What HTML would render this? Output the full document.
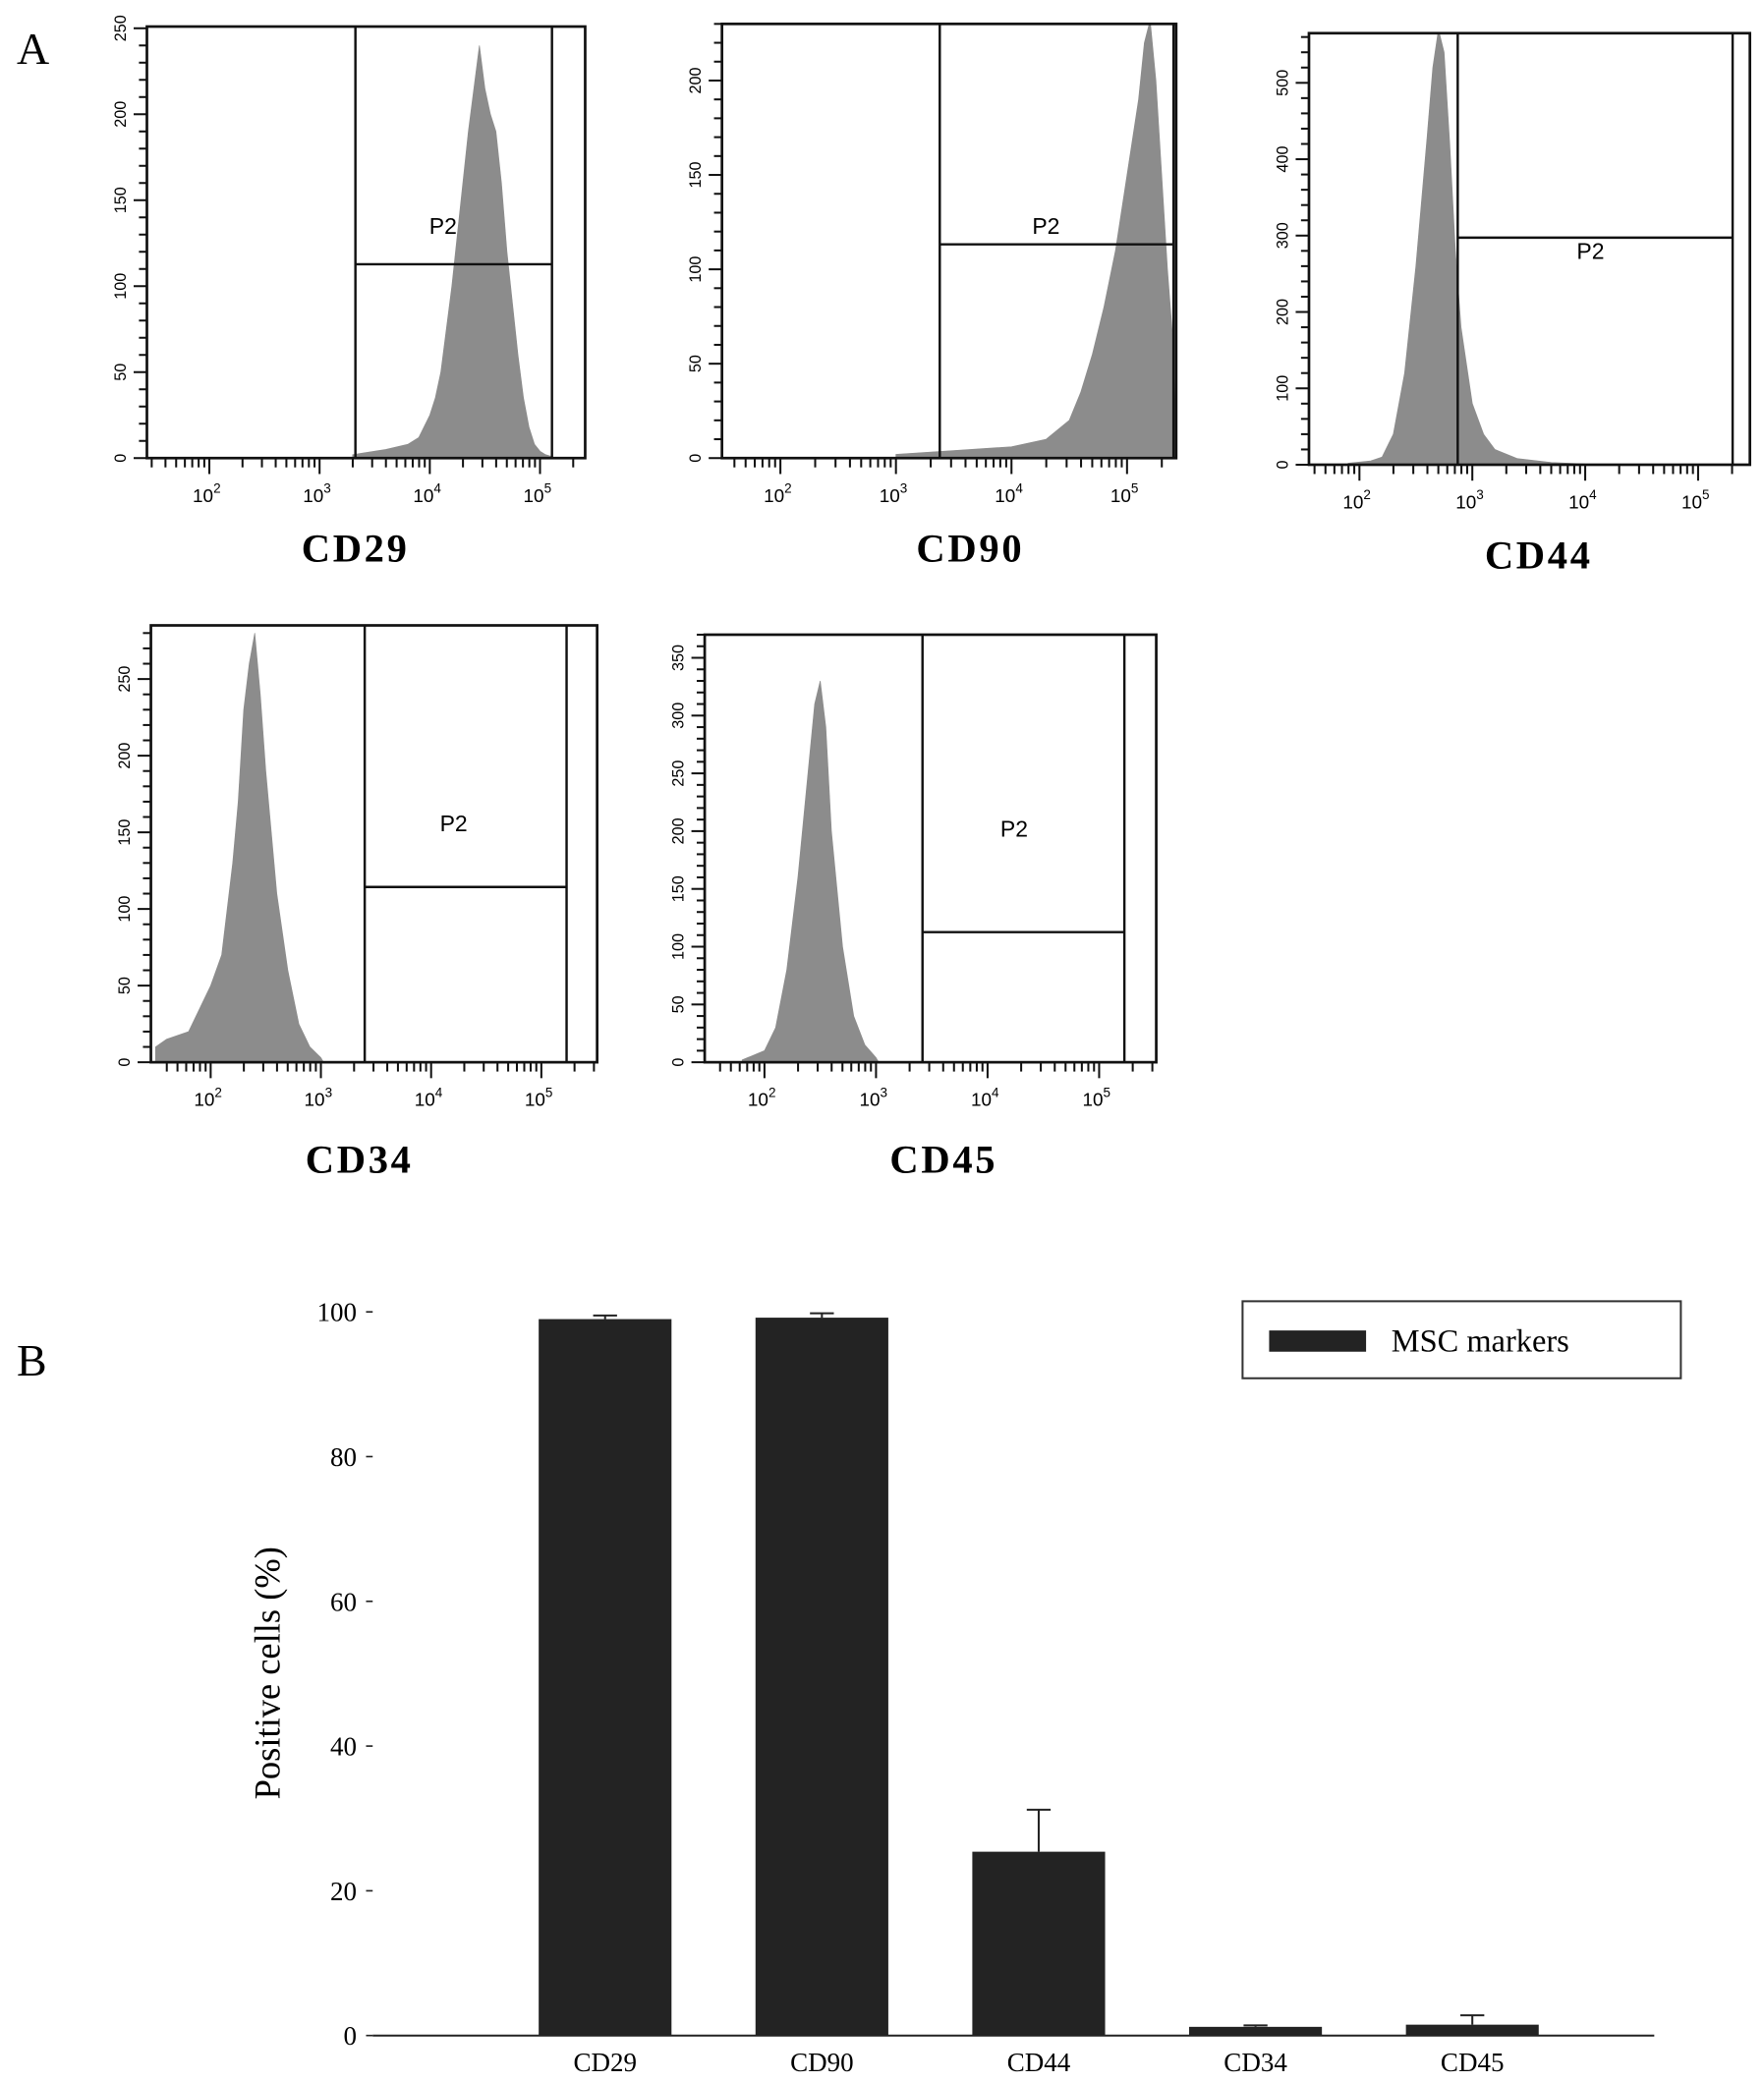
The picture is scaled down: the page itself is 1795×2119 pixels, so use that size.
<!DOCTYPE html>
<html><head><meta charset="utf-8"><style>
html,body{margin:0;padding:0;background:#fff;}
svg{display:block;}
.sans{font-family:"Liberation Sans",sans-serif;}
.serif{font-family:"Liberation Serif",serif;}
</style></head><body>
<svg id="fig" width="1795" height="2119" viewBox="0 0 1327 1568" xmlns="http://www.w3.org/2000/svg">
<rect x="0" y="0" width="1327" height="1568" fill="#fff"/>
<text x="12" y="48" class="serif" font-size="34">A</text>
<text x="12" y="1036" class="serif" font-size="34">B</text>
<g id="hists"></g>
<g id="bars"></g>
</svg>
<script>
// ---- Histogram data (log10 fluorescence, counts) ----
const cd29Log = [3.3,3.4,3.6,3.8,3.9,4.0,4.05,4.1,4.15,4.2,4.25,4.3,4.35,4.4,4.45,4.5,4.55,4.6,4.65,4.7,4.75,4.8,4.85,4.9,4.95,5.0,5.05,5.1];
const cd29Cnt = [2,3,5,8,12,25,35,50,75,100,130,160,190,215,240,215,200,190,160,120,90,60,35,18,8,4,2,1];
const cd90Log = [3.0,3.5,4.0,4.3,4.5,4.6,4.7,4.8,4.9,4.95,5.0,5.05,5.1,5.15,5.2,5.25,5.3,5.35,5.4];
const cd90Cnt = [2,4,6,10,20,35,55,80,110,130,150,170,190,220,232,200,150,100,60];
const cd44Log = [1.9,2.1,2.2,2.3,2.4,2.5,2.6,2.65,2.7,2.75,2.8,2.85,2.9,3.0,3.1,3.2,3.4,3.7,4.0];
const cd44Cnt = [2,5,10,40,120,260,430,520,570,540,420,280,180,80,40,20,8,3,1];
const cd34Log = [1.5,1.6,1.8,2.0,2.1,2.2,2.25,2.3,2.35,2.4,2.45,2.5,2.55,2.6,2.7,2.8,2.9,3.0];
const cd34Cnt = [10,15,20,50,70,130,170,230,260,280,240,190,150,110,60,25,10,3];
const cd45Log = [1.8,2.0,2.1,2.2,2.3,2.4,2.45,2.5,2.55,2.6,2.7,2.8,2.9,3.0];
const cd45Cnt = [2,10,30,80,160,260,310,330,290,200,100,40,15,4];
const decadeLabels = ["2","3","4","5"];

const NS="http://www.w3.org/2000/svg";
function mk(tag, attrs, parent){
  const e=document.createElementNS(NS,tag);
  for(const k in attrs) e.setAttribute(k,attrs[k]);
  parent.appendChild(e); return e;
}
const H=document.getElementById('hists');
const panels=[
 {name:'cd29',label:'CD29',logs:cd29Log,cnts:cd29Cnt,x0:110,x1:440,y0:20,y1:345,ymax:251,ystep:50,d2:157,dpx:83,gx:267,gx2:415,gy:199,p2:[333,176],lab:[267,423]},
 {name:'cd90',label:'CD90',logs:cd90Log,cnts:cd90Cnt,x0:543,x1:885,y0:18,y1:345,ymax:230,ystep:50,d2:587,dpx:87,gx:707,gx2:883,gy:184,p2:[787,176],lab:[730,423]},
 {name:'cd44',label:'CD44',logs:cd44Log,cnts:cd44Cnt,x0:985,x1:1317,y0:25,y1:350,ymax:565,ystep:100,d2:1023,dpx:85,gx:1097,gx2:1304,gy:179,p2:[1197,195],lab:[1158,428]},
 {name:'cd34',label:'CD34',logs:cd34Log,cnts:cd34Cnt,x0:113,x1:449,y0:471,y1:800,ymax:285,ystep:50,d2:158,dpx:83,gx:274,gx2:426,gy:668,p2:[341,626],lab:[270,883]},
 {name:'cd45',label:'CD45',logs:cd45Log,cnts:cd45Cnt,x0:530,x1:870,y0:478,y1:800,ymax:370,ystep:50,d2:575,dpx:84,gx:694,gx2:846,gy:702,p2:[763,630],lab:[710,883]}
];
panels.forEach((p,pi)=>{
  const g=mk('g',{},H);
  
  
  const xs=v=>p.d2+(v-2)*p.dpx;
  const ys=v=>p.y1-(v/p.ymax)*(p.y1-p.y0);
  const cp=mk('clipPath',{id:'clip'+pi},g);
  mk('rect',{x:p.x0,y:p.y0,width:p.x1-p.x0,height:p.y1-p.y0},cp);
  let d='M'+xs(p.logs[0])+','+p.y1;
  for(let i=0;i<p.logs.length;i++){
    d+=' L'+xs(p.logs[i])+','+ys(p.cnts[i]);
  }
  d+=' L'+(xs(p.logs[p.logs.length-1])+2)+','+p.y1+' Z';
  const area=mk('path',{d:d,fill:'#8c8c8c',stroke:'#8c8c8c','stroke-width':'0.5','clip-path':'url(#clip'+pi+')'},g);
  
  
  const box=mk('rect',{x:p.x0,y:p.y0,width:p.x1-p.x0,height:p.y1-p.y0,fill:'none',stroke:'#111','stroke-width':'2'},g);
  
  
  const gate=mk('path',{d:`M${p.gx},${p.y0} V${p.y1} M${p.gx2},${p.y0} V${p.y1} M${p.gx},${p.gy} H${p.gx2}`,stroke:'#111','stroke-width':'1.8',fill:'none'},g);
  
  
  const pt=mk('text',{x:p.p2[0],y:p.p2[1],'text-anchor':'middle','font-size':'17',class:'sans'},g);
  pt.textContent='P2';
  
  
  for(let v=0; v<=p.ymax; v+=p.ystep/5){
    const major=Math.abs(v/p.ystep-Math.round(v/p.ystep))<1e-6;
    mk('line',{x1:p.x0-(major?10:6),x2:p.x0,y1:ys(v),y2:ys(v),stroke:'#111','stroke-width':'1.5'},g);
    if(major){
      const t=mk('text',{x:0,y:0,'font-size':'12',class:'sans','text-anchor':'middle',transform:`translate(${p.x0-16},${ys(v)}) rotate(-90)`},g);
      t.textContent=String(Math.round(v));
      
      
    }
  }
  for(let dec=1;dec<=5;dec++){
    for(let m=1;m<=9;m++){
      const lv=dec+Math.log10(m);
      const x=xs(lv);
      if(x<p.x0+2||x>p.x1-2) continue;
      mk('line',{x1:x,x2:x,y1:p.y1,y2:p.y1+(m===1?12:7),stroke:'#111','stroke-width':'1.5'},g);
    }
  }
  decadeLabels.forEach(e=>{
    const x=xs(+e);
    const t=mk('text',{x:x-2,y:p.y1+33,'font-size':'14',class:'sans','text-anchor':'middle'},g);
    t.textContent='10';
    const s=mk('tspan',{dy:'-7','font-size':'10'},t);
    s.textContent=e;
    
    
  });
  const lt=mk('text',{x:p.lab[0],y:p.lab[1],'font-size':'30','font-weight':'bold',class:'serif','text-anchor':'middle','letter-spacing':'2'},g);
  lt.textContent=p.label;
  
  
});

// ---- Bar chart data ----
const barCats = ["CD29","CD90","CD44","CD34","CD45"];
const barVals = [99.0,99.2,25.4,1.2,1.5];
const barErrs = [0.5,0.6,5.8,0.2,1.3];
const yTicks = [0,20,40,60,80,100];

const B=document.getElementById('bars');
const bx0=280, bx1=1245, by0=1533, by1=988;
const yb=v=>by0-(v/100)*(by0-by1);
const xb=i=>455+i*163.25;
const axis=mk('line',{x1:bx0,x2:bx1,y1:by0,y2:by0,stroke:'#222','stroke-width':'1.5'},B);


yTicks.forEach(v=>{
  mk('line',{x1:bx0-5,x2:bx0,y1:yb(v),y2:yb(v),stroke:'#222','stroke-width':'1.2'},B);
  const t=mk('text',{x:bx0-12,y:yb(v)+7,'font-size':'20',class:'serif','text-anchor':'end'},B);
  t.textContent=String(v);
  
  
});
const yt=mk('text',{x:0,y:0,'font-size':'27',class:'serif','text-anchor':'middle',transform:'translate(210,1260) rotate(-90)'},B);
yt.textContent='Positive cells (%)';


barCats.forEach((c,i)=>{
  const cx=xb(i), w=100;
  const r=mk('rect',{x:cx-w/2,y:yb(barVals[i]),width:w,height:by0-yb(barVals[i]),fill:'#232323'},B);
  
  
  const e=mk('path',{d:`M${cx},${yb(barVals[i])} V${yb(barVals[i]+barErrs[i])} M${cx-9},${yb(barVals[i]+barErrs[i])} H${cx+9}`,stroke:'#222','stroke-width':'1.5',fill:'none'},B);
  
  
  const t=mk('text',{x:cx,y:1560,'font-size':'20',class:'serif','text-anchor':'middle'},B);
  t.textContent=c;
  
  
});
const lg=mk('g',{},B);


mk('rect',{x:935,y:980,width:330,height:58,fill:'#fff',stroke:'#333','stroke-width':'1.5'},lg);
const sw=mk('rect',{x:955,y:1002,width:73,height:16,fill:'#232323'},lg);


const lt=mk('text',{x:1047,y:1018,'font-size':'24',class:'serif'},lg);
lt.textContent='MSC markers';


</script>
</body></html>
